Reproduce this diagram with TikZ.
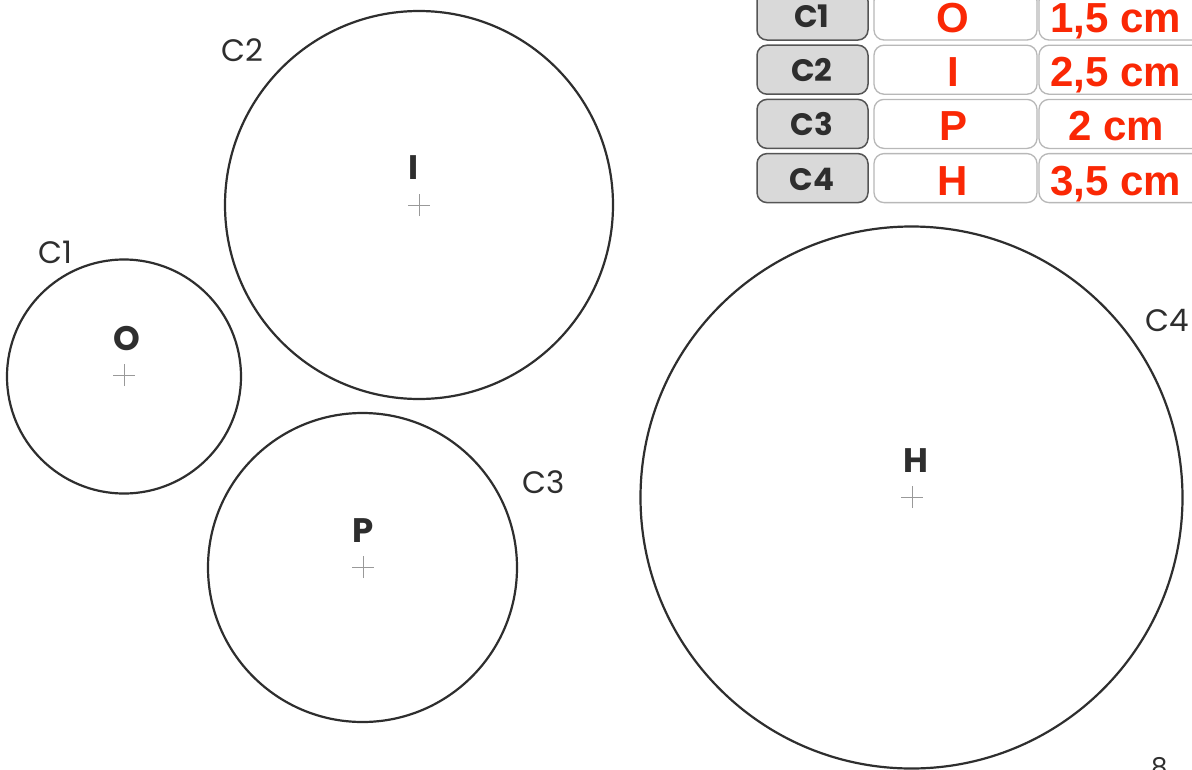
\documentclass[tikz,border=0pt]{standalone}
\usepackage{fontspec}
\setmainfont{Poppins}
\newfontfamily\redfont{Liberation Sans}
\definecolor{ink}{HTML}{2E2E2E}
\definecolor{redval}{RGB}{250,40,5}
\definecolor{boxfill}{HTML}{D9D9D9}
\definecolor{boxline}{HTML}{555555}
\definecolor{lightline}{HTML}{B8B8B8}
\tikzset{
  circ/.style={circle, draw=ink, line width=2.2pt, inner sep=0pt, minimum size=#1},
  ptlabel/.style={anchor=base, inner sep=0pt, text=ink, font=\fontsize{34}{34}\selectfont\bfseries},
  clabel/.style={anchor=base west, inner sep=0pt, text=ink, font=\fontsize{31}{31}\selectfont},
  crossmark/.style={draw=gray!80, line width=1pt},
  graybox/.style={draw=boxline, fill=boxfill, line width=1.5pt, rounded corners=10pt},
  whitebox/.style={draw=lightline, fill=white, line width=1.3pt, rounded corners=10pt},
  tlabel/.style={anchor=base, inner sep=0pt, text=ink, font=\fontsize{31}{31}\selectfont\bfseries},
  redtxt/.style={anchor=base, inner sep=0pt, text=redval, font=\redfont\fontsize{42}{42}\selectfont\bfseries}
}
\begin{document}
\begin{tikzpicture}[x=1pt,y=-1pt]
\useasboundingbox (0,0) rectangle (1192,769);
\clip (0,0) rectangle (1192,769);
\fill[white] (0,0) rectangle (1192,769);

% circles
\node[circ=234pt] (c1) at (124,376.5) {};
\node[circ=388pt] (c2) at (419,205) {};
\node[circ=309pt] (c3) at (362.5,567.5) {};
\node[circ=542pt] (c4) at (911.5,497.5) {};

% centre crosses
\foreach \n/\x/\y in {o/124/375, i/419/205, p/363/567, h/912/497}{
  \coordinate (x\n) at (\x,\y);
  \draw[crossmark] ([xshift=-11pt]x\n) -- ([xshift=11pt]x\n);
  \draw[crossmark] ([yshift=-11pt]x\n) -- ([yshift=11pt]x\n);
}

% point labels
\node[ptlabel] (lo) at (127,350) {O};
\node[ptlabel] (li) at (414,179) {I};
\node[ptlabel] (lp) at (363,542) {P};
\node[ptlabel] (lh) at (916,472) {H};

% circle labels
\node[clabel] (n1) at (38,263) {C1};
\node[clabel] (n2) at (221,61) {C2};
\node[clabel] (n3) at (522,493) {C3};
\node[clabel] (n4) at (1145,331) {C4};

% table
\foreach \r/\lab/\pt/\val [count=\k from 0] in {1/C1/O/{1,5 cm}, 2/C2/I/{2,5 cm}, 3/C3/P/{2 cm}, 4/C4/H/{3,5 cm}}{
  \pgfmathsetmacro{\yc}{15.5+54.2*\k}
  \draw[graybox] (757,\yc-24.5) rectangle (868,\yc+24.5);
  \draw[whitebox] (874,\yc-24.5) rectangle (1037,\yc+24.5);
  \draw[whitebox] (1039,\yc-24.5) rectangle (1215,\yc+24.5);
  \node[tlabel] (t\r) at (812,\yc+12) {\lab};
  \node[redtxt] (p\r) at (953,\yc+17) {\pt};
  \node[redtxt] (v\r) at (1116,\yc+17) {\val};
}

% stray page number fragment
\node[anchor=north west, inner sep=0pt, text=ink, font=\fontsize{26}{26}\selectfont] (pg) at (1151,757) {8};
\end{tikzpicture}
\end{document}
